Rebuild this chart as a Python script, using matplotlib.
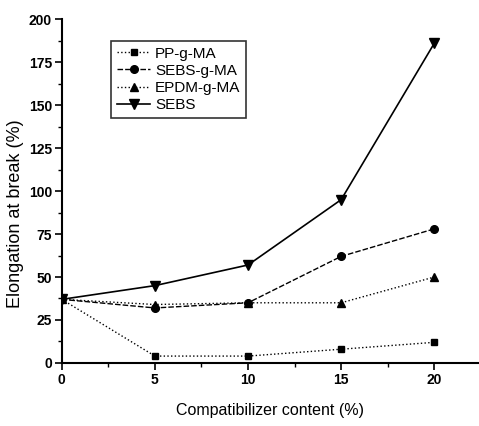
import matplotlib.pyplot as plt
from matplotlib.ticker import MultipleLocator

plt.rcParams['font.family'] = ['Liberation Sans', 'DejaVu Sans']

content = [0, 5, 10, 15, 20]
pp_g_ma = [37, 4, 4, 8, 12]
sebs_g_ma = [37, 32, 35, 62, 78]
epdm_g_ma = [37, 34, 35, 35, 50]
sebs = [37, 45, 57, 95, 186]

fig = plt.figure(figsize=(4.79, 4.26), dpi=100)
ax = fig.add_axes([0.129, 0.148, 0.871, 0.807])

ax.plot(content, pp_g_ma, color='black', ls=':', lw=1, marker='s', ms=4.5, label='PP-g-MA')
ax.plot(content, sebs_g_ma, color='black', ls=(0, (4, 1.5)), lw=1, marker='o', ms=5.5, label='SEBS-g-MA')
ax.plot(content, epdm_g_ma, color='black', ls=':', lw=1, marker='^', ms=5.5, label='EPDM-g-MA')
ax.plot(content, sebs, color='black', ls='-', lw=1.2, marker='v', ms=6.5, label='SEBS')

ax.set_xlim(0, 22.4)
ax.set_ylim(0, 200)
ax.xaxis.set_major_locator(MultipleLocator(5))
ax.xaxis.set_minor_locator(MultipleLocator(2.5))
ax.yaxis.set_major_locator(MultipleLocator(25))
ax.yaxis.set_minor_locator(MultipleLocator(12.5))
ax.tick_params(which='major', length=5, width=1.2, labelsize=10, pad=2)
ax.tick_params(which='minor', length=3, width=1)
for lab in ax.get_xticklabels() + ax.get_yticklabels():
    lab.set_fontweight('bold')

ax.spines['top'].set_visible(False)
ax.spines['right'].set_visible(False)
ax.spines['left'].set_linewidth(1.5)
ax.spines['bottom'].set_linewidth(1.5)

ax.set_xlabel('Compatibilizer content (%)', fontsize=11.5, va='center')
ax.set_ylabel('Elongation at break (%)', fontsize=13, va='center')
ax.xaxis.set_label_coords(0.499, -0.137)
ax.yaxis.set_label_coords(-0.11, 0.433)

leg = ax.legend(loc='upper left', bbox_to_anchor=(103 / 479, 1 - 33 / 426),
                bbox_transform=fig.transFigure, fontsize=11, frameon=True,
                fancybox=False, edgecolor='black', handlelength=2.2,
                borderpad=0.4, labelspacing=0.2, handletextpad=0.3)
leg.get_frame().set_linewidth(1.2)

fig.savefig('out.png', dpi=100)
